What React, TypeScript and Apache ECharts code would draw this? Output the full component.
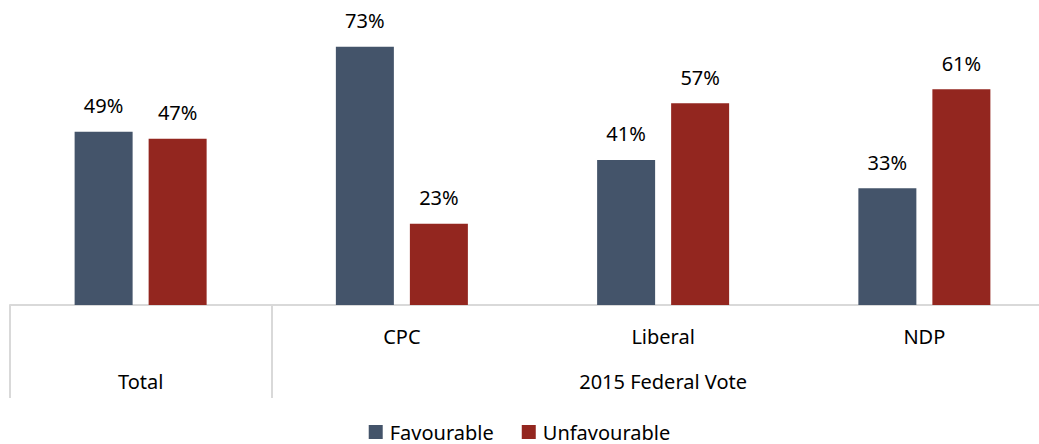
import React, { useEffect, useRef } from "react";
import * as echarts from "echarts";

const categories = ["", "CPC", "Liberal", "NDP"];
const groupLabels: Record<string, string> = { "0.5": "Total", "2.5": "2015 Federal Vote" };
const favourable = [49, 73, 41, 33];
const unfavourable = [47, 23, 57, 61];

const FONT = "'Noto Sans', sans-serif";

export default function App() {
  const ref = useRef<HTMLDivElement>(null);
  useEffect(() => {
    if (!ref.current) return;
    const chart = echarts.init(ref.current, undefined, { renderer: "svg" });
    const label = {
      show: true,
      position: "top",
      distance: 16,
      formatter: "{c}%",
      color: "#000",
      fontSize: 20,
      fontFamily: FONT,
    };
    chart.setOption({
      animation: false,
      textStyle: { fontFamily: FONT },
      grid: {
        left: 10,
        width: 1045,
        top: 22,
        height: 283,
        containLabel: false,
        outerBoundsMode: "none",
      },
      legend: {
        bottom: -3,
        left: "center",
        icon: "rect",
        itemWidth: 14,
        itemHeight: 14,
        itemGap: 28,
        itemStyle: { borderWidth: 0 },
        textStyle: { fontSize: 20, color: "#000", fontFamily: FONT, padding: [0, 0, 0, 2] },
        data: ["Favourable", "Unfavourable"],
      },
      xAxis: [
        {
          type: "category",
          data: categories,
          axisLine: { lineStyle: { color: "#d9d9d9", width: 2 } },
          axisTick: {
            show: true,
            length: 93,
            lineStyle: { color: "#d9d9d9", width: 2 },
            interval: (index: number) => index === 0 || index === 1,
          },
          axisLabel: { color: "#000", fontSize: 20, margin: 21, fontFamily: FONT },
        },
        {
          type: "value",
          position: "bottom",
          offset: 45,
          min: 0,
          max: 4,
          interval: 0.5,
          axisLine: { show: false },
          axisTick: { show: false },
          splitLine: { show: false },
          axisLabel: {
            color: "#000",
            fontSize: 20,
            margin: 21,
            fontFamily: FONT,
            formatter: (v: number) => groupLabels[String(v)] || "",
          },
        },
      ],
      yAxis: {
        type: "value",
        min: 0,
        max: 80,
        show: false,
        splitLine: { show: false },
      },
      series: [
        {
          name: "Favourable",
          type: "bar",
          xAxisIndex: 0,
          data: favourable,
          barWidth: 58,
          barGap: "27.6%",
          itemStyle: { color: "#44546A" },
          label,
        },
        {
          name: "Unfavourable",
          type: "bar",
          xAxisIndex: 0,
          data: unfavourable,
          barWidth: 58,
          itemStyle: { color: "#93261F" },
          label,
        },
      ],
    });
    return () => chart.dispose();
  }, []);
  return (
    <div
      ref={ref}
      style={{ position: "absolute", left: 0, top: 0, width: 1039, height: 444, background: "#fff" }}
    />
  );
}
